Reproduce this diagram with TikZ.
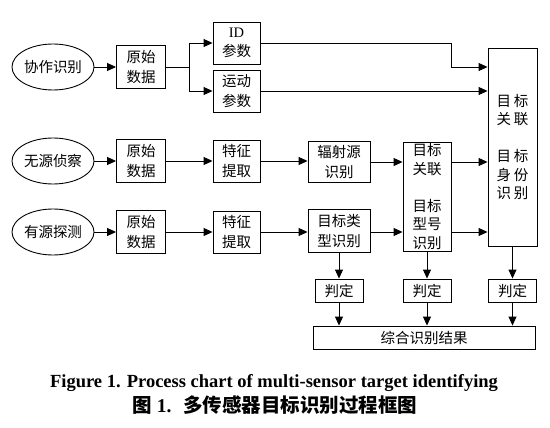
\documentclass[tikz,border=0pt]{standalone}
\usepackage{fontspec}
\setmainfont{Liberation Serif}
\newfontfamily\cjk{Noto Sans CJK SC}
\usetikzlibrary{arrows.meta,shapes.geometric}

\begin{document}
\begin{tikzpicture}[x=1pt,y=-1pt,line width=0.9pt,>={Triangle[length=9pt,width=8pt]},
    box/.style={draw,inner sep=0pt,align=center,font=\cjk\fontsize{14.5}{19.5}\selectfont},
    src/.style={draw,ellipse,minimum width=80pt,minimum height=46pt,inner sep=0pt,font=\cjk\fontsize{14.5}{17}\selectfont}]
    \useasboundingbox (0,0) rectangle (550,428);
    % sources
    \node[src] (s1) at (53,67) {协作识别};
    \node[src] (s2) at (53,161) {无源侦察};
    \node[src] (s3) at (53,232) {有源探测};
    \foreach \i/\y in {1/67,2/161,3/232}{
        \node[box,minimum width=49pt,minimum height=43pt] (raw\i) at (141,\y) {原始\\数据};
    }
    \node[box,minimum width=47pt,minimum height=42pt] (id) at (236.5,43) {{\rmfamily ID}\\参数};
    \node[box,minimum width=47pt,minimum height=42pt] (mv) at (236.5,91) {运动\\参数};
    \foreach \i/\y in {2/161,3/232}{
        \node[box,minimum width=47pt,minimum height=42pt] (feat\i) at (236.5,\y) {特征\\提取};
    }
    \node[box,minimum width=62pt,minimum height=41pt] (rad) at (339,162) {辐射源\\识别};
    \node[box,minimum width=62pt,minimum height=43pt] (typ) at (339,231) {目标类\\型识别};
    \node[box,minimum width=48pt,minimum height=109pt,font=\cjk\fontsize{14.5}{18.5}\selectfont] (mid) at (427,196.5)
        {目标\\关联\\[18.5pt]目标\\型号\\识别};
    \node[box,minimum width=49pt,minimum height=198pt,font=\cjk\fontsize{14.5}{18.5}\selectfont] (big) at (512.5,147)
        {目\hspace{3pt}标\\关\hspace{3pt}联\\[18.5pt]目\hspace{3pt}标\\身\hspace{3pt}份\\识\hspace{3pt}别};
    \foreach \n/\x in {1/339,2/427,3/512.5}{
        \node[box,minimum width=48pt,minimum height=23pt] (jd\n) at (\x,290.5) {判定};
    }
    \node[box,minimum width=222pt,minimum height=23pt] (res) at (424,337.5) {综合识别结果};

    % first row
    \draw[->] (s1) -- (raw1);
    \draw (raw1.east) -- ++(23,0) coordinate (fork);
    \draw[->] (fork) |- (id);
    \draw[->] (fork) |- (mv);
    \draw[->] (id) -- (id -| mid.east) |- (big.west |- s1);
    \draw[->] (mv) -- (mv -| big.west);
    % passive and active rows
    \draw[->] (s2) -- (raw2);
    \draw[->] (raw2) -- (feat2);
    \draw[->] (feat2) -- (feat2 -| rad.west);
    \draw[->] (rad) -- (rad -| mid.west);
    \draw[->] (rad -| mid.east) -- (rad -| big.west);
    \draw[->] (s3) -- (raw3);
    \draw[->] (raw3) -- (feat3);
    \draw[->] (feat3) -- (feat3 -| typ.west);
    \draw[->] (feat3 -| typ.east) -- (feat3 -| mid.west);
    \draw[->] (feat3 -| mid.east) -- (feat3 -| big.west);
    % decisions
    \draw[->] (typ) -- (jd1);
    \draw[->] (mid) -- (jd2);
    \draw[->] (big) -- (jd3);
    \foreach \n in {1,2,3}
        \draw[->] (jd\n) -- (jd\n |- res.north);

    \node[font=\bfseries\fontsize{18.5}{20}\selectfont] (cap) at (274,383)
        {Figure 1. Process chart of multi-sensor target identifying};
    \node[font=\cjk\bfseries\fontsize{19.5}{20}\selectfont] (capzh) at (275,405)
        {图 {\rmfamily 1.}\hspace{0.6em}多传感器目标识别过程框图};
\end{tikzpicture}
\end{document}
